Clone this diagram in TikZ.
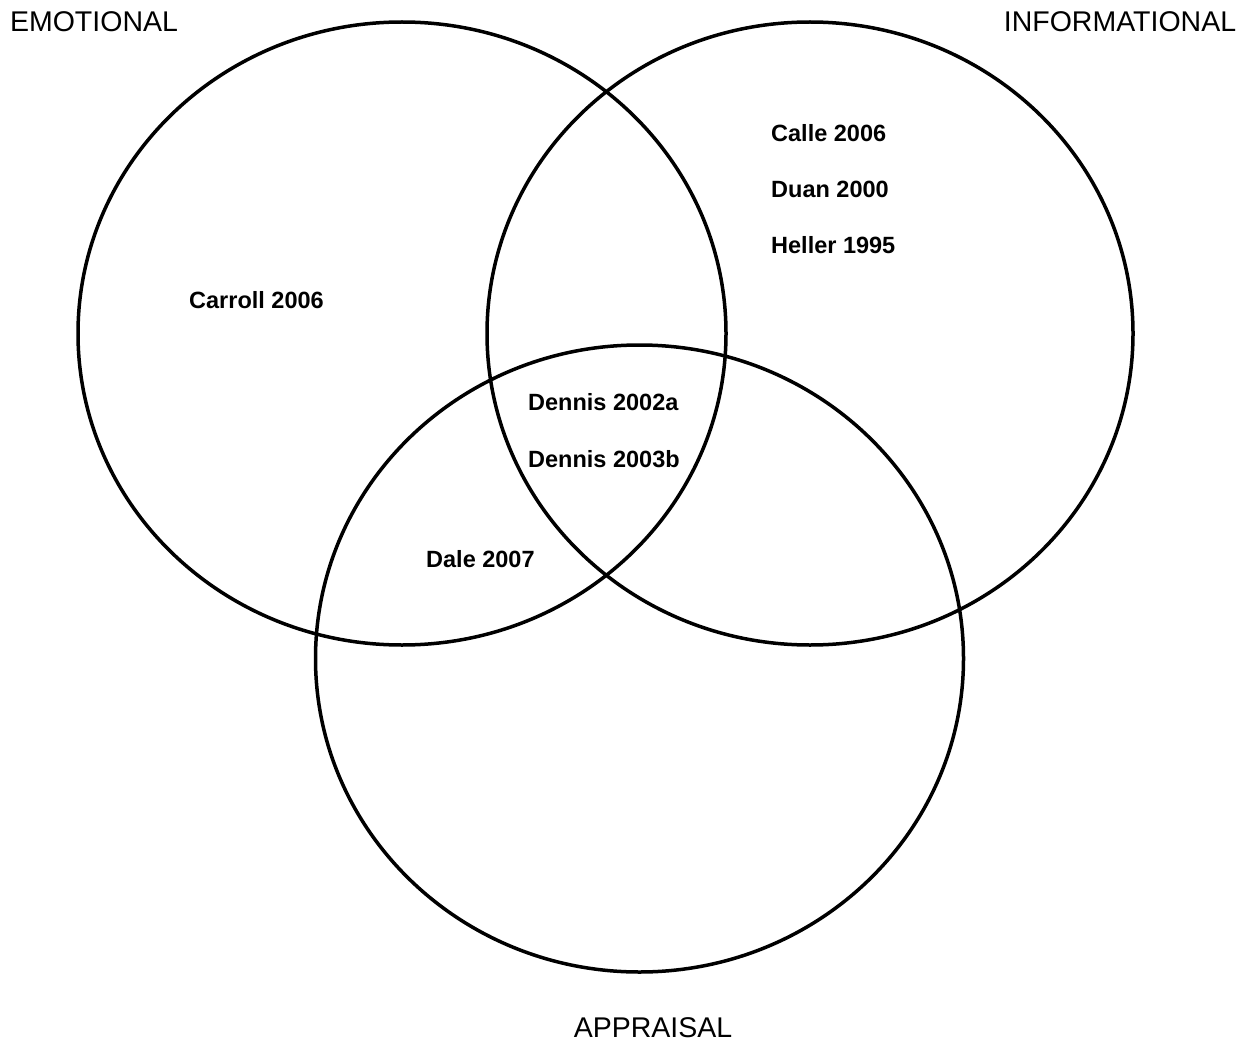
\documentclass[tikz,border=0pt]{standalone}
\usepackage{fontspec}
\setmainfont{Liberation Sans}
\usepackage{tikz}

\tikzset{
    setname/.style={inner sep=0pt,font=\fontsize{28.5}{30}\selectfont},
    study/.style={inner sep=0pt,anchor=west,font=\fontsize{23.5}{25}\selectfont\bfseries}
}

\begin{document}
\begin{tikzpicture}[line cap=round,line join=round,x=1pt,y=-1pt]
        \useasboundingbox (0,0) rectangle (1247,1043);

        \draw[line width=3.5pt] (402,333.5) ellipse (324 and 311.5);
        \draw[line width=3.5pt] (810,333.5) ellipse (323 and 311.5);
        \draw[line width=3.5pt] (639.5,658.5) ellipse (324 and 313.5);

        \node[setname] (emo) at (94,22) {EMOTIONAL};
        \node[setname] (info) at (1120,22) {INFORMATIONAL};
        \node[setname] (appr) at (653,1028) {APPRAISAL};

        \node[study] (calle) at (771,133) {Calle 2006};
        \node[study] (duan) at (771,189) {Duan 2000};
        \node[study] (heller) at (771,245) {Heller 1995};
        \node[study] (carroll) at (189,300) {Carroll 2006};
        \node[study] (dennisa) at (528,402) {Dennis 2002a};
        \node[study] (dennisb) at (528,459) {Dennis 2003b};
        \node[study] (dale) at (426,559) {Dale 2007};
    \end{tikzpicture}
\end{document}
